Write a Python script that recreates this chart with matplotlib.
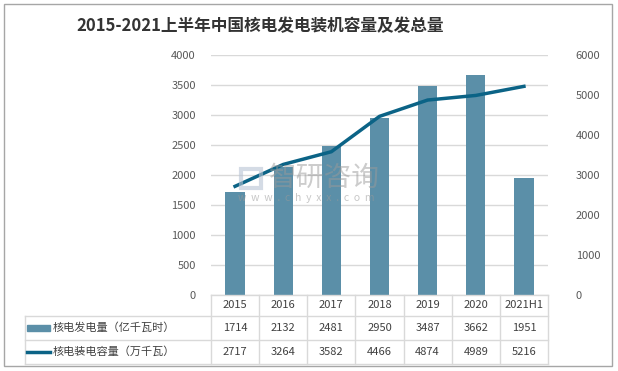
import numpy as np
import matplotlib.pyplot as plt
from matplotlib.patches import Rectangle

plt.rcParams['font.family'] = ['Noto Sans CJK SC', 'DejaVu Sans']

years = ['2015', '2016', '2017', '2018', '2019', '2020', '2021H1']
generation = [1714, 2132, 2481, 2950, 3487, 3662, 1951]
capacity = [2717, 3264, 3582, 4466, 4874, 4989, 5216]
gen_label = '核电发电量（亿千瓦时）'
cap_label = '核电装电容量（万千瓦）'
title = '2015-2021上半年中国核电发电装机容量及发总量'

W, H = 618, 371
bar_color = '#5B8FA8'
line_color = '#0B6386'
grid_color = '#D9D9D9'
text_color = '#595959'

fig = plt.figure(figsize=(W / 100, H / 100), dpi=100)


def fx(px):
    return px / W


def fy(py):
    return 1 - py / H


# outer border
fig.add_artist(Rectangle((fx(4), fy(366)), fx(608), 362 / H, transform=fig.transFigure,
                         fill=False, edgecolor='#A6A6A6', linewidth=1))

x0, x1, ytop, ybot = 211, 548, 55, 295
ax = fig.add_axes([fx(x0), fy(ybot), fx(x1 - x0), (ybot - ytop) / H])
x = np.arange(len(years))
ax.bar(x, generation, width=0.4, color=bar_color, zorder=2)
ax.set_xlim(-0.5, len(years) - 0.5)
ax.set_ylim(0, 4000)
ax.set_yticks(np.arange(0, 4001, 500))
ax.yaxis.grid(True, color=grid_color, linewidth=1, zorder=0)
ax.set_xticks([])
for s in ax.spines.values():
    s.set_visible(False)
ax.tick_params(axis='y', length=0, labelsize=8, colors=text_color, pad=11)

ax2 = ax.twinx()
ax2.plot(x, capacity, color=line_color, linewidth=2.5, zorder=3)
ax2.set_ylim(0, 6000)
ax2.set_yticks(np.arange(0, 6001, 1000))
for s in ax2.spines.values():
    s.set_visible(False)
ax2.tick_params(axis='y', length=0, labelsize=8, colors=text_color, pad=20)

# watermark
fig.add_artist(Rectangle((fx(241), fy(188)), fx(20), 19 / H, transform=fig.transFigure,
                         fill=False, edgecolor='#B8C4D4', linewidth=3, alpha=0.6))
fig.text(fx(269), fy(178), '智研咨询', fontsize=20, color='#9A9A9A', alpha=0.5, va='center')
fig.text(fx(238), fy(198), 'w  w  w  .  c  h  y  x  x  .  c  o  m', fontsize=7.5,
         color='#9A9A9A', alpha=0.55, va='center')

# data table
col_w = (x1 - x0) / len(years)
rows = [ybot, 316, 340, 364]
leg_x = 25
line_kw = dict(color=grid_color, linewidth=1, transform=fig.transFigure)
fig.add_artist(plt.Line2D([fx(x0), fx(x1)], [fy(rows[0]), fy(rows[0])], **line_kw))
for r in rows[1:]:
    fig.add_artist(plt.Line2D([fx(leg_x), fx(x1)], [fy(r), fy(r)], **line_kw))
for i in range(len(years) + 1):
    xc = x0 + i * col_w
    fig.add_artist(plt.Line2D([fx(xc), fx(xc)], [fy(rows[0]), fy(rows[3])], **line_kw))
fig.add_artist(plt.Line2D([fx(leg_x), fx(leg_x)], [fy(rows[1]), fy(rows[3])], **line_kw))

for i, yr in enumerate(years):
    cx = x0 + (i + 0.5) * col_w
    fig.text(fx(cx), fy((rows[0] + rows[1]) / 2), yr, ha='center', va='center',
             fontsize=8, color='#404040')
    fig.text(fx(cx), fy((rows[1] + rows[2]) / 2), str(generation[i]), ha='center', va='center',
             fontsize=8, color='#404040')
    fig.text(fx(cx), fy((rows[2] + rows[3]) / 2), str(capacity[i]), ha='center', va='center',
             fontsize=8, color='#404040')

ym1 = (rows[1] + rows[2]) / 2
ym2 = (rows[2] + rows[3]) / 2
fig.add_artist(Rectangle((fx(27), fy(ym1 + 3)), fx(23), 6 / H, transform=fig.transFigure,
                         color=bar_color))
fig.add_artist(plt.Line2D([fx(27), fx(50)], [fy(ym2), fy(ym2)], color=line_color,
                          linewidth=2.5, transform=fig.transFigure))
fig.text(fx(53), fy(ym1), gen_label, ha='left', va='center', fontsize=8, color='#404040')
fig.text(fx(53), fy(ym2), cap_label, ha='left', va='center', fontsize=8, color='#404040')

fig.text(fx(260), fy(26), title, ha='center', va='center', fontsize=12,
         fontweight='bold', color='#333333')

fig.savefig('out.png', dpi=100)
